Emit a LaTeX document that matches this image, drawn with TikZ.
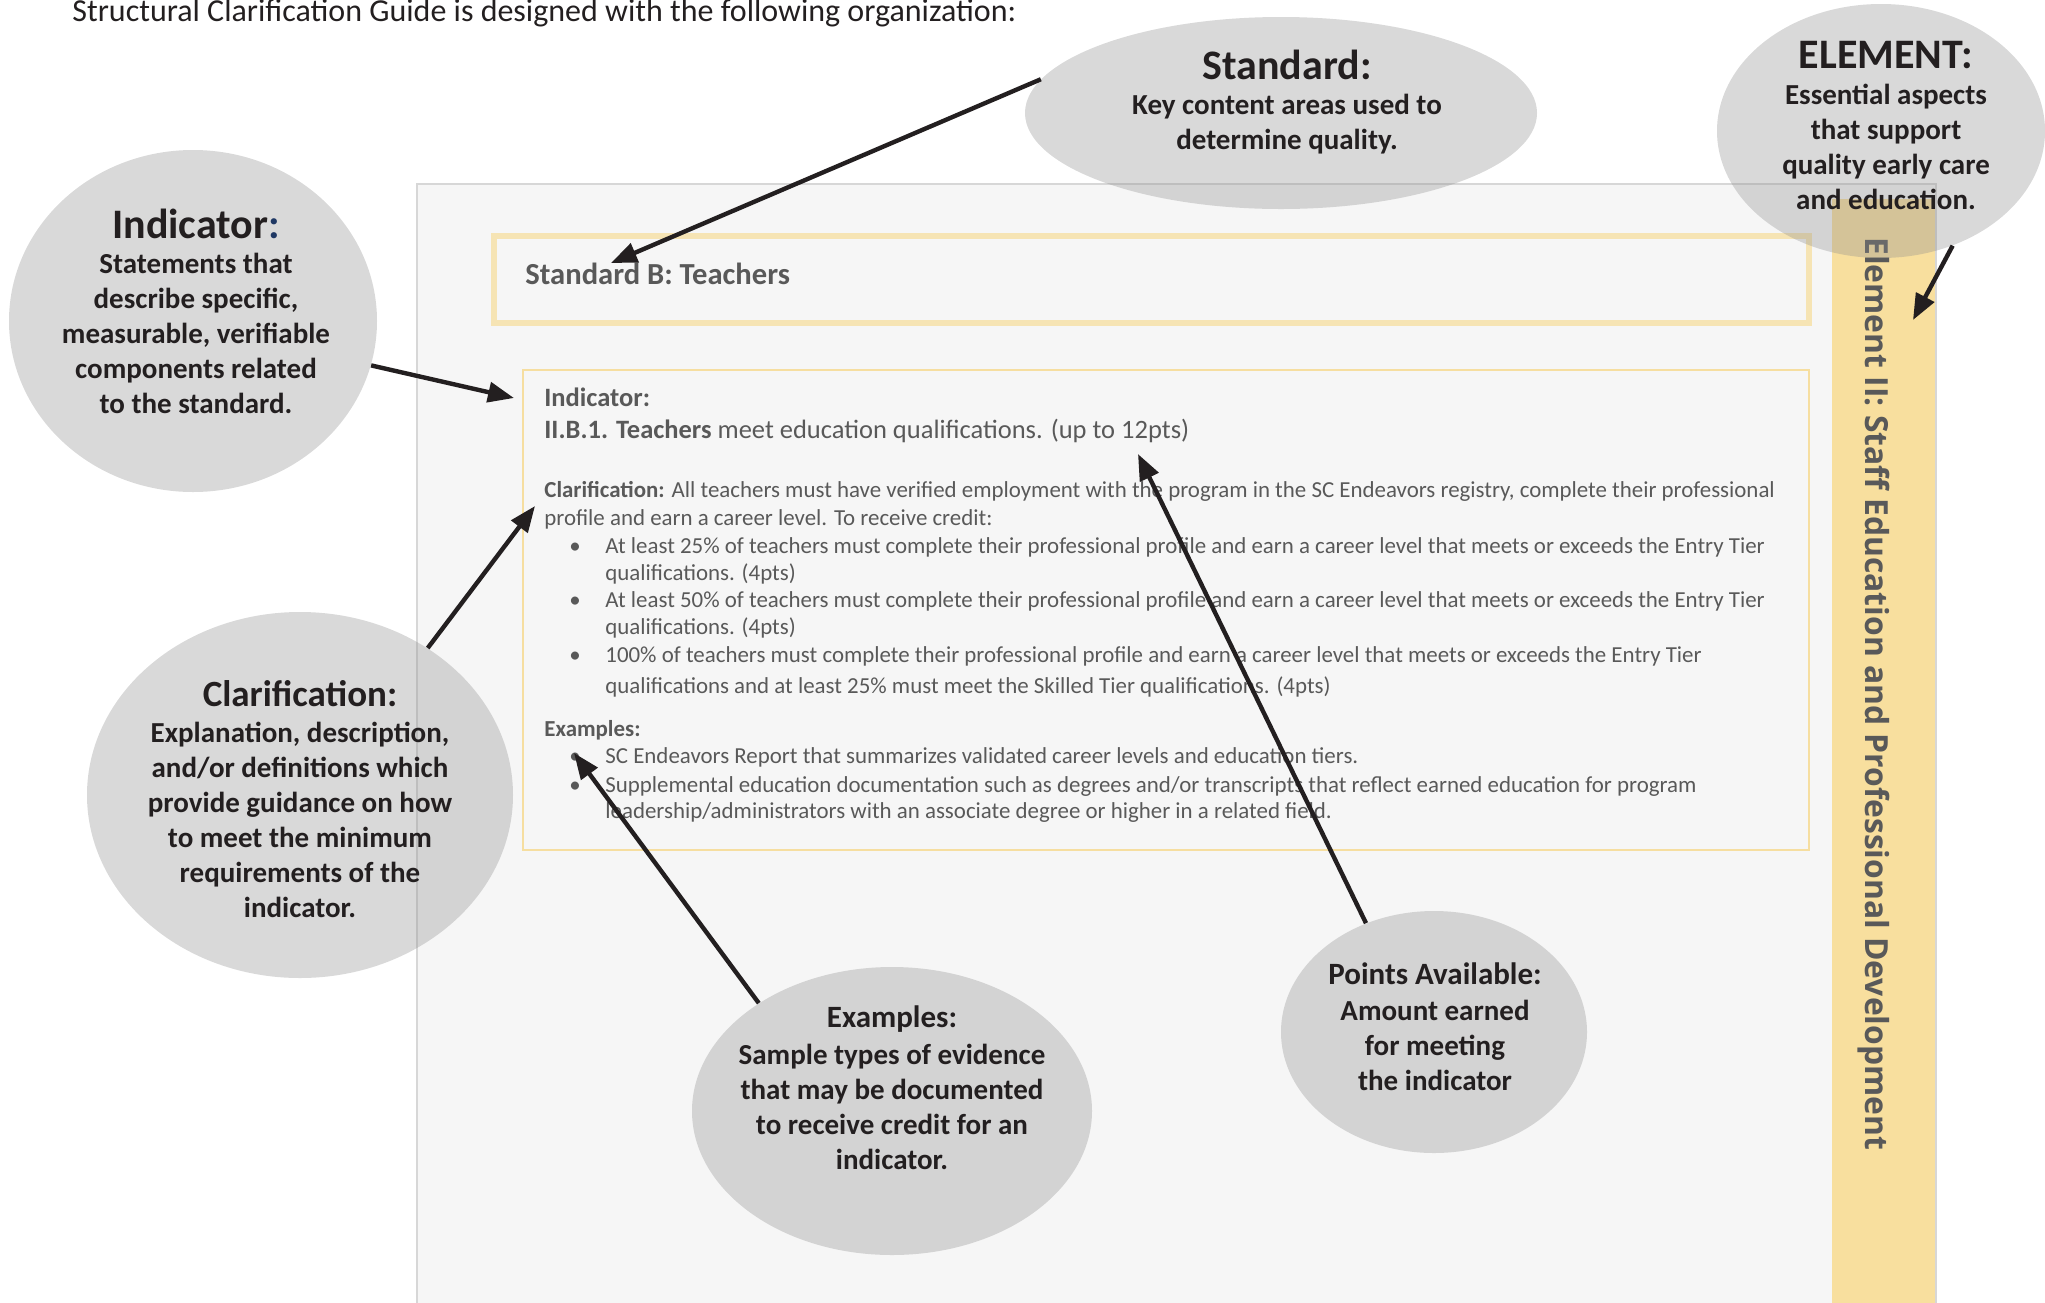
\documentclass[tikz,border=0pt]{standalone}
\usepackage{fontspec}
\setmainfont{Carlito}
\newfontfamily\bandfont{Open Sans}
\usetikzlibrary{shapes.geometric}
\usetikzlibrary{arrows.meta}
\usetikzlibrary{positioning}

\definecolor{panelgray}{RGB}{246,246,246}
\definecolor{panelline}{RGB}{215,215,215}
\definecolor{bandyellow}{RGB}{248,223,158}
\definecolor{boxyellow}{RGB}{246,228,180}
\definecolor{thinyellow}{RGB}{246,222,160}
\definecolor{textgray}{RGB}{89,89,89}
\definecolor{inkblack}{RGB}{35,31,32}
\definecolor{bubblegray}{RGB}{140,140,140}
\definecolor{colonblue}{RGB}{31,56,100}

\tikzset{
  bubble/.style={ellipse, fill=bubblegray, fill opacity=0.33, inner sep=0},
  pointer/.style={draw=inkblack, line width=2.2pt, -{Triangle[length=13pt,width=10pt]}},
  head/.style={inner sep=0, text=inkblack, font=\bfseries\fontsize{#1}{#1}\selectfont},
  body/.style={inner sep=0, align=center, text=inkblack, font=\bfseries\fontsize{14.5}{17.5}\selectfont},
  note/.style={anchor=base west, inner sep=0, text=textgray, font=\fontsize{11.45}{14}\selectfont},
  dot/.style={anchor=base, inner sep=0, text=textgray, font=\fontsize{11.45}{14}\selectfont}
}

\begin{document}
\begin{tikzpicture}[x=0.5pt,y=-0.5pt]

            % \draw [help lines] (0,0) grid (2045,1302);
            \useasboundingbox (0,0) rectangle (2045,1302);

            % page panel and element band
            \fill[panelgray] (417,184) rectangle (1937,1320);
            \fill[bandyellow] (1832,199) rectangle (1937,1320);
            \draw[panelline, line width=0.8pt] (417,1320) -- (417,184) -- (1936,184) -- (1936,1320);
            \draw[boxyellow, line width=3pt] (494,236) rectangle (1809,323);
            \draw[thinyellow, line width=0.9pt] (523,370) rectangle (1809,850);

            \path   (72,21) node[anchor=base west, inner sep=0, text=inkblack, font=\fontsize{16}{18}\selectfont] (title) {Structural Clarification Guide is designed with the following organization:}
                    (525,284) node[note, font=\bfseries\fontsize{15.3}{17}\selectfont] (stdb) {Standard B: Teachers}
                    (1865,237) node[anchor=base west, rotate=-90, inner sep=0, text=textgray, font=\bandfont\bfseries\fontsize{15.9}{17}\selectfont] (bandtext) {Element II: Staff Education and Professional Development};

            % indicator box text
            \path   (544,406) node[note, font=\bfseries\fontsize{13.25}{15}\selectfont] (indhead) {Indicator:}
                    (544,438) node[note, font=\fontsize{13.25}{15}\selectfont] (indline) {\textbf{II.B.1. Teachers} meet education qualifications. (up to 12pts)}
                    (544,497) node[note] (clara) {\textbf{Clarification:} All teachers must have verified employment with the program in the SC Endeavors registry, complete their professional}
                    (544,525) node[note] (clarb) {profile and earn a career level. To receive credit:}
                    (575,553) node[dot] (dota) {•}
                    (605,553) node[note] (bula) {At least 25\% of teachers must complete their professional profile and earn a career level that meets or exceeds the Entry Tier}
                    (605,580) node[note] (bulaa) {qualifications. (4pts)}
                    (575,607) node[dot] (dotb) {•}
                    (605,607) node[note] (bulb) {At least 50\% of teachers must complete their professional profile and earn a career level that meets or exceeds the Entry Tier}
                    (605,634) node[note] (bulbb) {qualifications. (4pts)}
                    (575,662) node[dot] (dotc) {•}
                    (605,662) node[note] (bulc) {100\% of teachers must complete their professional profile and earn a career level that meets or exceeds the Entry Tier}
                    (605,693) node[note] (bulcc) {qualifications and at least 25\% must meet the Skilled Tier qualifications. (4pts)}
                    (544,736) node[note, font=\bfseries\fontsize{11.45}{14}\selectfont] (exhead) {Examples:}
                    (575,763) node[dot] (dotd) {•}
                    (605,763) node[note] (exa) {SC Endeavors Report that summarizes validated career levels and education tiers.}
                    (575,792) node[dot] (dote) {•}
                    (605,792) node[note] (exb) {Supplemental education documentation such as degrees and/or transcripts that reflect earned education for program}
                    (605,818) node[note] (exbb) {leadership/administrators with an associate degree or higher in a related field.};

            % bubbles
            \path   (1281,113) node[bubble, minimum width=256pt, minimum height=96pt] (std) {}
                    (1881,131) node[bubble, minimum width=164pt, minimum height=127pt] (elem) {}
                    (193,321) node[bubble, minimum width=184pt, minimum height=171pt] (ind) {}
                    (300,795) node[bubble, minimum width=213pt, minimum height=183pt] (clar) {}
                    (892,1111) node[bubble, minimum width=200pt, minimum height=144pt] (ex) {}
                    (1434,1032) node[bubble, minimum width=153pt, minimum height=121pt] (pts) {};

            \path   (1287,65) node[head=21] (stdhead) {Standard:}
                    (1287,124) node[body] (stdbody) {Key content areas used to\\determine quality.}
                    (1886,55) node[head=21] (elemhead) {ELEMENT:}
                    (1886,147) node[body] (elembody) {Essential aspects\\that support\\quality early care\\and education.}
                    (196,224) node[head=21] (indhd) {Indicator\textcolor{colonblue}{:}}
                    (196,333) node[body] (indbody) {Statements that\\describe specific,\\measurable, verifiable\\components related\\to the standard.}
                    (300,694) node[head=18.5] (clarhead) {Clarification:}
                    (300,820) node[body] (clarbody) {Explanation, description,\\and/or definitions which\\provide guidance on how\\to meet the minimum\\requirements of the\\indicator.}
                    (892,1019) node[head=15.5] (exhd) {Examples:}
                    (892,1107) node[body] (exbody) {Sample types of evidence\\that may be documented\\to receive credit for an\\indicator.}
                    (1435,974) node[head=15.5] (ptshead) {Points Available:}
                    (1435,1045) node[body] (ptsbody) {Amount earned\\for meeting\\the indicator};

            % arrow tips
            \coordinate (stdtip) at (611,263);
            \coordinate (elemtip) at (1913,320);
            \coordinate (indtip) at (514,398);
            \coordinate (clartip) at (535,506);
            \coordinate (extip) at (574,753);
            \coordinate (ptstip) at (1138,454);

            \draw[pointer] (std.172) -- (stdtip);
            \draw[pointer] (elem.-58) -- (elemtip);
            \draw[pointer] (ind.-14) -- (indtip);
            \draw[pointer] (clar.49) -- (clartip);
            \draw[pointer] (ex.141) -- (extip);
            \draw[pointer] (pts.122) -- (ptstip);

\end{tikzpicture}
\end{document}
